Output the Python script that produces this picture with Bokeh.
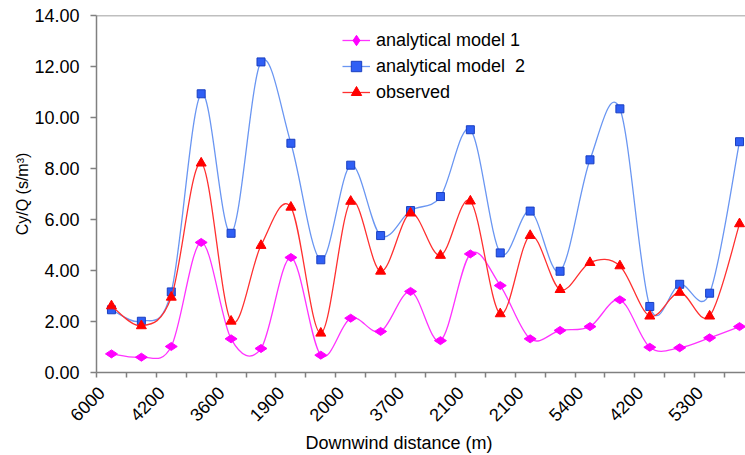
import math
from bokeh.plotting import figure
from bokeh.models import (Range1d, FixedTicker, NumeralTickFormatter, Span,
                          Legend, LegendItem, ColumnDataSource, Title)
from bokeh.embed import file_html
from bokeh.resources import INLINE

# ---- data ----
tick_labels = ["6000", "4200", "3600", "1900", "2000", "3700",
               "2100", "2100", "5400", "4200", "5300"]
model1 = [0.73, 0.60, 1.02, 5.10, 1.32, 0.94, 4.51, 0.68, 2.13, 1.61, 3.18,
          1.25, 4.65, 3.41, 1.32, 1.65, 1.80, 2.85, 0.99, 0.97, 1.36, 1.80]
model2 = [2.46, 2.01, 3.16, 10.93, 5.46, 12.18, 8.99, 4.42, 8.13, 5.37, 6.35,
          6.90, 9.52, 4.69, 6.33, 3.97, 8.34, 10.34, 2.59, 3.46, 3.11, 9.05]
observed = [2.61, 1.83, 2.95, 8.21, 2.01, 4.98, 6.48, 1.54, 6.71, 3.97, 6.25,
            4.59, 6.72, 2.30, 5.37, 3.25, 4.31, 4.18, 2.21, 3.14, 2.21, 5.83]
series_names = ["analytical model 1", "analytical model  2", "observed"]

n = len(model1)
xs = list(range(n))

FONT = "Liberation Sans"
GRAY = "#808080"
LABEL_SHIFT = 0.33   # tick labels sit a little left of the category centre

p = figure(width=745, height=455, output_backend="svg", toolbar_location=None,
           x_range=Range1d(-0.5, 21.2), y_range=Range1d(0, 14),
           min_border_left=96, min_border_right=0, min_border_top=15,
           min_border_bottom=83)
p.outline_line_color = None
p.grid.visible = False
p.background_fill_color = "white"
p.border_fill_color = "white"


def smooth_segments(x, y, t=1.0 / 6.0):
    """Bezier control points (Catmull-Rom style smoothing, as in spreadsheet charts)."""
    m = len(x)
    d = dict(x0=[], y0=[], x1=[], y1=[], cx0=[], cy0=[], cx1=[], cy1=[])
    for i in range(m - 1):
        i0 = max(i - 1, 0)
        i3 = min(i + 2, m - 1)
        d["x0"].append(x[i]); d["y0"].append(y[i])
        d["x1"].append(x[i + 1]); d["y1"].append(y[i + 1])
        d["cx0"].append(x[i] + (x[i + 1] - x[i0]) * t)
        d["cy0"].append(y[i] + (y[i + 1] - y[i0]) * t)
        d["cx1"].append(x[i + 1] - (x[i3] - x[i]) * t)
        d["cy1"].append(y[i + 1] - (y[i3] - y[i]) * t)
    return ColumnDataSource(d)


styles = [
    dict(data=model1, line="#FF33FF", fill="#FF00FF", edge="#FF00FF",
         marker="diamond", size=12, angle=math.pi / 2),
    dict(data=model2, line="#6A96F2", fill="#2F5FF5", edge="#1A3FC0",
         marker="square", size=8, angle=0),
    dict(data=observed, line="#FF3030", fill="#FF0000", edge="#FF0000",
         marker="triangle", size=10, angle=0),
]

items = []
for name, st in zip(series_names, styles):
    src = smooth_segments(xs, st["data"])
    lr = p.bezier(x0="x0", y0="y0", x1="x1", y1="y1", cx0="cx0", cy0="cy0",
                  cx1="cx1", cy1="cy1", source=src, line_color=st["line"],
                  line_width=1.3)
    sr = p.scatter(xs, st["data"], marker=st["marker"], size=st["size"],
                   angle=st["angle"], fill_color=st["fill"],
                   line_color=st["edge"], line_width=1)
    items.append(LegendItem(label=name, renderers=[lr, sr]))

legend = Legend(items=items, location=(246, 267), glyph_width=28,
                glyph_height=26, label_height=26, spacing=0, label_standoff=6,
                padding=0, margin=0, border_line_color=None,
                background_fill_alpha=0, label_text_font=FONT,
                label_text_font_size="18px", label_text_color="black")
p.add_layout(legend)

# top border line
p.add_layout(Span(location=14, dimension="width", line_color=GRAY, line_width=1.5))

# x axis
xa = p.xaxis[0]
label_pos = [2 * k - LABEL_SHIFT for k in range(len(tick_labels))]
xa.ticker = FixedTicker(ticks=label_pos,
                        minor_ticks=[k - 0.5 for k in range(n + 1)])
xa.major_label_overrides = {pos: lab for pos, lab in zip(label_pos, tick_labels)}
xa.major_tick_out = 0
xa.major_tick_in = 0
xa.minor_tick_out = 5
xa.minor_tick_in = 0
xa.minor_tick_line_color = GRAY
xa.minor_tick_line_width = 1.5
xa.axis_line_color = GRAY
xa.axis_line_width = 1.5
xa.major_label_orientation = math.pi / 4
xa.major_label_standoff = 12
xa.major_label_text_font = FONT
xa.major_label_text_font_size = "18px"
xa.major_label_text_color = "black"

p.add_layout(Title(text="Downwind distance (m)", align="left", offset=209,
                   standoff=0, text_font=FONT, text_font_size="18px",
                   text_font_style="normal", text_color="black"), "below")

# y axis
ya = p.yaxis[0]
ya.ticker = FixedTicker(ticks=[0, 2, 4, 6, 8, 10, 12, 14], minor_ticks=[])
ya.formatter = NumeralTickFormatter(format="0.00")
ya.major_tick_out = 6
ya.major_tick_in = 0
ya.major_tick_line_color = GRAY
ya.major_tick_line_width = 1.5
ya.axis_line_color = GRAY
ya.axis_line_width = 1.5
ya.major_label_standoff = 11
ya.major_label_text_font = FONT
ya.major_label_text_font_size = "18px"
ya.major_label_text_color = "black"
ya.axis_label = "Cy/Q (s/m³)"
ya.axis_label_text_font = FONT
ya.axis_label_text_font_size = "16px"
ya.axis_label_text_font_style = "normal"
ya.axis_label_text_color = "black"
ya.axis_label_standoff = 0

open("out.html", "w").write(file_html(p, INLINE))
